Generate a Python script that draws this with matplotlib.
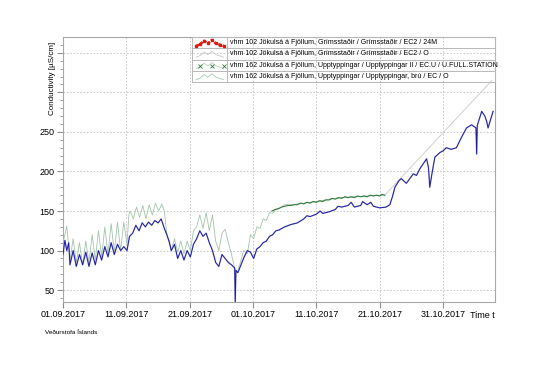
import matplotlib
matplotlib.use("Agg")
import matplotlib.pyplot as plt
import matplotlib.dates as mdates
from matplotlib.patches import Rectangle
from datetime import datetime
import numpy as np

plt.rcParams['font.family'] = ['Liberation Sans', 'DejaVu Sans']

# ---------------- data (days after 01.09.2017 00:00) ----------------
green_days = [0, 0.6, 1.1, 1.6, 2.1, 2.6, 3.1, 3.6, 4.1, 4.6, 5.1, 5.6, 6.1, 6.6, 7.1, 7.6,
              8.1, 8.6, 9.1, 9.6, 10.1, 10.4, 10.6, 11.1, 11.6, 12.1, 12.6, 13.1, 13.6, 14.1,
              14.6, 15.1, 15.6, 16.0, 16.4, 16.8, 17.1, 17.6, 18.1, 18.6, 19.1, 19.6, 20.1,
              20.6, 21.1, 21.6, 22.1, 22.6, 23.1, 23.6, 24.1, 24.6, 25.1, 25.6, 26.1, 26.6,
              27.1, 27.5, 28.0, 28.5, 29.1, 29.6, 30.1, 30.6, 31.1, 31.6, 32.1, 32.6, 33.1,
              33.6, 34.1, 35, 36, 38, 40, 42, 44, 46, 48, 50, 50.8, 67.7]
green_vals = [110, 131, 88, 115, 85, 110, 82, 112, 85, 120, 88, 125, 92, 130, 95, 134,
              98, 136, 100, 136, 108, 145, 150, 140, 155, 142, 157, 140, 158, 145,
              160, 150, 159, 150, 120, 112, 100, 115, 98, 112, 96, 112, 100,
              125, 130, 145, 128, 148, 125, 145, 112, 100, 122, 127, 110, 95,
              78, 72, 85, 100, 96, 120, 115, 130, 128, 140, 138, 148, 147,
              152, 153, 158, 158, 160, 162, 165, 167, 168, 169, 170, 170, 315]

dgreen_days = [33, 33.5, 34, 34.5, 35, 35.5, 36, 36.5, 37, 37.5, 38, 38.5, 39, 39.5, 40,
               40.5, 41, 41.5, 42, 42.5, 43, 43.5, 44, 44.5, 45, 45.5, 46, 46.5, 47, 47.5,
               48, 48.5, 49, 49.5, 50, 50.4, 50.8]
dgreen_vals = [150, 152, 153, 155, 156, 157, 157, 158, 158, 160, 159, 161, 160, 162, 161,
               163, 162, 164, 164, 166, 165, 167, 166, 168, 167, 168, 167, 169, 168, 169,
               168, 170, 169, 170, 169, 171, 170]

blue_days = [0, 0.3, 0.6, 0.9, 1.1, 1.6, 2.1, 2.6, 3.1, 3.6, 4.1, 4.6, 5.1, 5.6, 6.1, 6.6,
             7.1, 7.6, 8.1, 8.6, 9.1, 9.6, 10.1, 10.5, 11.0, 11.5, 12.0, 12.5, 13.0, 13.5,
             14.0, 14.5, 15.0, 15.5, 16.0, 16.4, 16.8, 17.1, 17.6, 18.1, 18.6, 19.1, 19.6,
             20.1, 20.6, 21.1, 21.6, 22.1, 22.6, 23.1, 23.6, 24.1, 24.6, 25.1, 25.6, 26.1,
             26.6, 27.1, 27.2, 27.3, 27.6, 28.1, 28.6, 29.1, 29.6, 30.1, 30.6, 31.1, 31.6,
             32.1, 32.6, 33.1, 33.6, 34.1, 35, 36, 37, 38, 38.5, 39, 40, 40.6, 41, 42, 43,
             43.4, 44, 45, 45.5, 46, 47, 47.3, 48, 48.6, 49, 50, 51, 51.6, 52.0, 52.4, 53.0,
             53.4, 54.2, 55.3, 55.8, 56.3, 57.4, 57.7, 57.9, 58.2, 58.7, 59.5, 60.0, 60.5,
             61.3, 62.1, 62.9, 63.7, 64.5, 65.2, 65.3, 65.4, 66.1, 66.6, 66.9, 67.1, 67.9]
blue_vals = [95, 113, 100, 110, 82, 100, 80, 95, 82, 98, 80, 97, 82, 100, 88, 105,
             92, 110, 95, 108, 100, 105, 100, 118, 122, 132, 125, 135, 130, 136,
             132, 138, 135, 140, 128, 120, 110, 100, 108, 90, 100, 88, 100,
             92, 108, 115, 125, 118, 122, 110, 100, 85, 80, 95, 90, 85,
             82, 78, 35, 75, 72, 82, 92, 100, 98, 90, 102, 105, 110,
             112, 118, 120, 125, 126, 130, 133, 135, 140, 144, 143, 146, 150, 147, 149, 152,
             156, 155, 157, 161, 155, 157, 162, 158, 161, 156, 154, 155, 158, 168, 180, 188,
             191, 185, 197, 195, 203, 216, 205, 180, 195, 218, 224, 226, 230,
             228, 230, 243, 255, 259, 255, 222, 258, 276, 270, 263, 255, 276]

legend_labels = [
    "vhm 102 Jökulsá á Fjöllum, Grímsstaðir / Grímsstaðir / EC2 / 24M",
    "vhm 102 Jökulsá á Fjöllum, Grímsstaðir / Grímsstaðir / EC2 / O",
    "vhm 162 Jökulsá á Fjöllum, Upptyppingar / Upptyppingar II / EC.U / U.FULL.STATION",
    "vhm 162 Jökulsá á Fjöllum, Upptyppingar / Upptyppingar, brú / EC / O",
]
xtick_labels = ["01.09.2017", "11.09.2017", "21.09.2017", "01.10.2017",
                "11.10.2017", "21.10.2017", "31.10.2017"]
ytick_vals = [50, 100, 150, 200, 250, 300, 350]

# ---------------- plot ----------------
base = mdates.date2num(datetime(2017, 9, 1))
fig = plt.figure(figsize=(5.4, 3.82), dpi=100)
ax = fig.add_axes([63/540, 1-302/382, (495-63)/540, (302-37)/382])

gd = base + np.array(green_days)
gv = np.array(green_vals)
ax.plot(gd[:-1], gv[:-1], color='#a4c4ac', lw=0.6, zorder=3)
ax.plot(gd[-2:], gv[-2:], color='#cfcfcf', lw=0.7, zorder=3)
bd = base + np.array(blue_days)
ax.plot(bd, blue_vals, color='#9a9ad0', lw=1.1, zorder=4, alpha=0.6)
ax.plot(bd, blue_vals, color='#1c1ca0', lw=0.7, zorder=5)
ax.plot(base + np.array(dgreen_days), dgreen_vals, color='#2d7a3c', lw=0.8, zorder=6)

ax.set_xlim(base, base + 68.2)
ax.set_ylim(35, 370)

xt = [base + 10*i for i in range(7)]
ax.set_xticks(xt)
ax.set_xticklabels(xtick_labels, fontsize=6.5)
ax.set_yticks(ytick_vals)
ax.set_yticklabels([str(v) if v <= 250 else "" for v in ytick_vals], fontsize=6.5)
ax.set_yticks(np.arange(40, 370, 10), minor=True)
ax.tick_params(axis='both', which='major', length=4, color='#909090', pad=2)
ax.tick_params(axis='y', which='minor', length=2, color='#909090')
ax.grid(True, which='major', color='#c0c0c0', ls=(0, (2, 2)), lw=0.6)
for s in ax.spines.values():
    s.set_color('#a8a8a8')
    s.set_linewidth(0.8)

fig.text(52/540, 1-78/382, "Conductivity [µS/cm]", rotation=90, ha='center', va='center', fontsize=5.8)
fig.text(495/540, 1-316/382, "Time t", ha='right', va='center', fontsize=6.5)
fig.text(45/540, 1-333/382, "Veðurstofa Íslands", ha='left', va='center', fontsize=4.6)

# ---------------- legend (table style) ----------------
lx0 = (192-63)/432
lx1 = (227-63)/432
ly1 = 1.0
rh = 0.0425
ly0 = ly1 - 4*rh
lc = '#b8b8b8'
T = ax.transAxes
ax.add_patch(Rectangle((lx0, ly0), 1-lx0, ly1-ly0, fill=False, ec=lc, lw=0.7, transform=T, zorder=10, clip_on=False))
ax.plot([lx1, lx1], [ly0, ly1], color=lc, lw=0.7, transform=T, zorder=10, clip_on=False)
for i in range(1, 4):
    ax.plot([lx0, 1], [ly1 - i*rh]*2, color=lc, lw=0.7, transform=T, zorder=10, clip_on=False)

icon_x = np.linspace(lx0 + 0.01, lx1 - 0.008, 8)
icon_f = np.array([0.15, 0.35, 0.75, 0.45, 0.85, 0.45, 0.3, 0.15])
styles = [
    dict(color='#dd1a10', lw=1.8, ls=(0, (1.2, 0.6)), marker='s', ms=1.6),
    dict(color='#c8c8c8', lw=0.6),
    dict(color='#b8d0b8', lw=0.6),
    dict(color='#a8c8b0', lw=0.6),
]
for i, (lab, st) in enumerate(zip(legend_labels, styles)):
    yb = ly1 - (i+1)*rh
    ax.plot(icon_x, yb + rh*(0.1 + 0.75*icon_f), transform=T, zorder=11, clip_on=False, **st)
    if i == 2:
        ax.plot(icon_x[[1, 4, 7]], [yb + rh*0.45]*3, ls='none', marker='x', ms=3, mew=0.6,
                color='#2d7a3c', transform=T, zorder=12, clip_on=False)
    ax.text(lx1 + 0.008, yb + rh*0.5, lab, transform=T, fontsize=5.0, va='center', ha='left', zorder=12)

fig.savefig("out.png", dpi=100)
